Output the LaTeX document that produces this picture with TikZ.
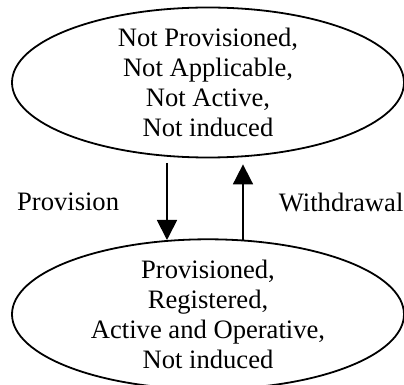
\documentclass[tikz,border=0pt]{standalone}
\usepackage{fontspec}
\setmainfont{Liberation Serif}
\usetikzlibrary{arrows.meta,positioning,shapes}

\begin{document}
\begin{tikzpicture}[auto,>={Triangle[width=10pt,length=10pt]}]
	\tikzstyle{state} = [draw, ellipse, line width=0.9pt, minimum width=196pt, minimum height=75pt, inner xsep=0pt, inner ysep=-1pt, align=center, font=\fontsize{13.3pt}{15pt}\selectfont]
	\tikzstyle{tag} = [inner sep=0pt, font=\fontsize{13.3pt}{15pt}\selectfont]
	
	\useasboundingbox (-104pt,-151.25pt) rectangle (98pt,41.25pt);
	
	\node [state] (notprov) at (0,0) {Not Provisioned,\\ Not Applicable,\\ Not Active,\\ Not induced};
	
	\node [state, below = 40pt of notprov] (prov) {Provisioned,\\ Registered,\\ Active and Operative,\\ Not induced};
	
	\draw [->, line width=0.9pt] ([xshift=-20.5pt, yshift=-2.25pt]notprov.south) --node[tag, left=23.5pt]{Provision} ([xshift=-20.5pt, yshift=-0.8pt]prov.north);
	
	\draw [->, line width=0.9pt] ([xshift=17.5pt, yshift=-0.6pt]prov.north) --node[tag, right=17.5pt]{Withdrawal} ([xshift=17.5pt, yshift=-3pt]notprov.south);
	
\end{tikzpicture}
\end{document}
